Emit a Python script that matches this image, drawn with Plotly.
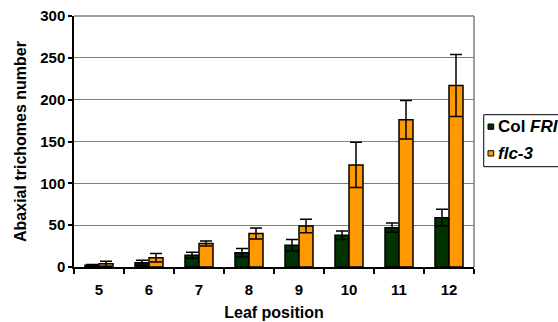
import plotly.graph_objects as go

leaf_positions = ["5", "6", "7", "8", "9", "10", "11", "12"]
col_fri = [2, 5, 14, 17, 26, 38, 47, 59]
col_fri_err = [1, 3, 3.5, 5, 7, 5, 5.5, 10]
flc3 = [4, 11, 28, 40, 49, 122, 176, 217]
flc3_err = [3, 5, 3, 6.5, 8, 27, 23, 37]
series_names = ["<b>Col <i>FRI</i></b>", "<b><i>flc-3</i></b>"]
series_colors = ["#003300", "#FF9900"]

font_family = "Liberation Sans, Arial, sans-serif"

fig = go.Figure()
for name, vals, errs, color in [(series_names[0], col_fri, col_fri_err, series_colors[0]),
                                (series_names[1], flc3, flc3_err, series_colors[1])]:
    fig.add_trace(go.Bar(
        x=leaf_positions, y=vals, name=name, showlegend=False,
        marker=dict(color=color, line=dict(color="black", width=1.5)),
        error_y=dict(type="data", array=errs, color="black", thickness=1.5, width=6),
    ))

# manual legend (box, swatches, labels) + plot frame lines
shapes = [
    dict(type="rect", xref="paper", yref="paper", x0=1.0243, x1=1.2125, y0=0.3996, y1=0.6068,
         line=dict(color="black", width=1), fillcolor="white", layer="below"),
    dict(type="line", xref="paper", yref="paper", x0=1, x1=1, y0=0, y1=1,
         line=dict(color="#808080", width=1.5)),
    dict(type="line", xref="paper", yref="paper", x0=0, x1=1, y0=1, y1=1,
         line=dict(color="#808080", width=1.5)),
]
legend_rows_y = [(0.5486, 0.5697, 0.559), (0.4422, 0.4633, 0.453)]
annotations = []
for (y0, y1, yt), name, color in zip(legend_rows_y, series_names, series_colors):
    shapes.append(dict(type="rect", xref="paper", yref="paper", x0=1.035, x1=1.0493,
                       y0=y0, y1=y1, line=dict(color="black", width=1), fillcolor=color))
    annotations.append(dict(text=name, xref="paper", yref="paper", x=1.0558, y=yt,
                            xanchor="left", yanchor="middle", showarrow=False,
                            font=dict(size=17, color="black")))

fig.update_layout(
    width=558, height=322,
    margin=dict(l=74, r=84, t=16, b=55, autoexpand=False),
    paper_bgcolor="white", plot_bgcolor="white",
    font=dict(family=font_family, size=15, color="black"),
    barmode="group", bargap=0.44, bargroupgap=0,
    showlegend=False,
    xaxis=dict(
        type="category", tickson="boundaries", ticks="outside", ticklen=5,
        tickcolor="black", tickwidth=1.5, showline=True, linecolor="black",
        linewidth=1.5, showgrid=False, ticklabelstandoff=8,
        tickvals=leaf_positions, ticktext=[f"<b>{v}</b>" for v in leaf_positions],
        title=dict(text="<b>Leaf position</b>", standoff=10, font=dict(size=16)),
        tickfont=dict(size=15),
    ),
    yaxis=dict(
        range=[0, 300], ticks="outside", ticklen=4, tickcolor="black",
        tick0=0, dtick=50, tickprefix="<b>", ticksuffix="</b>",
        tickwidth=1.5, showline=True, linecolor="black", linewidth=1.5,
        showgrid=True, gridcolor="#808080", gridwidth=1, zeroline=False,
        title=dict(text="<b>Abaxial trichomes number</b>", standoff=10, font=dict(size=16)),
        tickfont=dict(size=15),
    ),
    shapes=shapes,
    annotations=annotations,
)

fig.write_html("out.html", config={"displayModeBar": False},
               post_script="document.body.style.margin='0px';")
